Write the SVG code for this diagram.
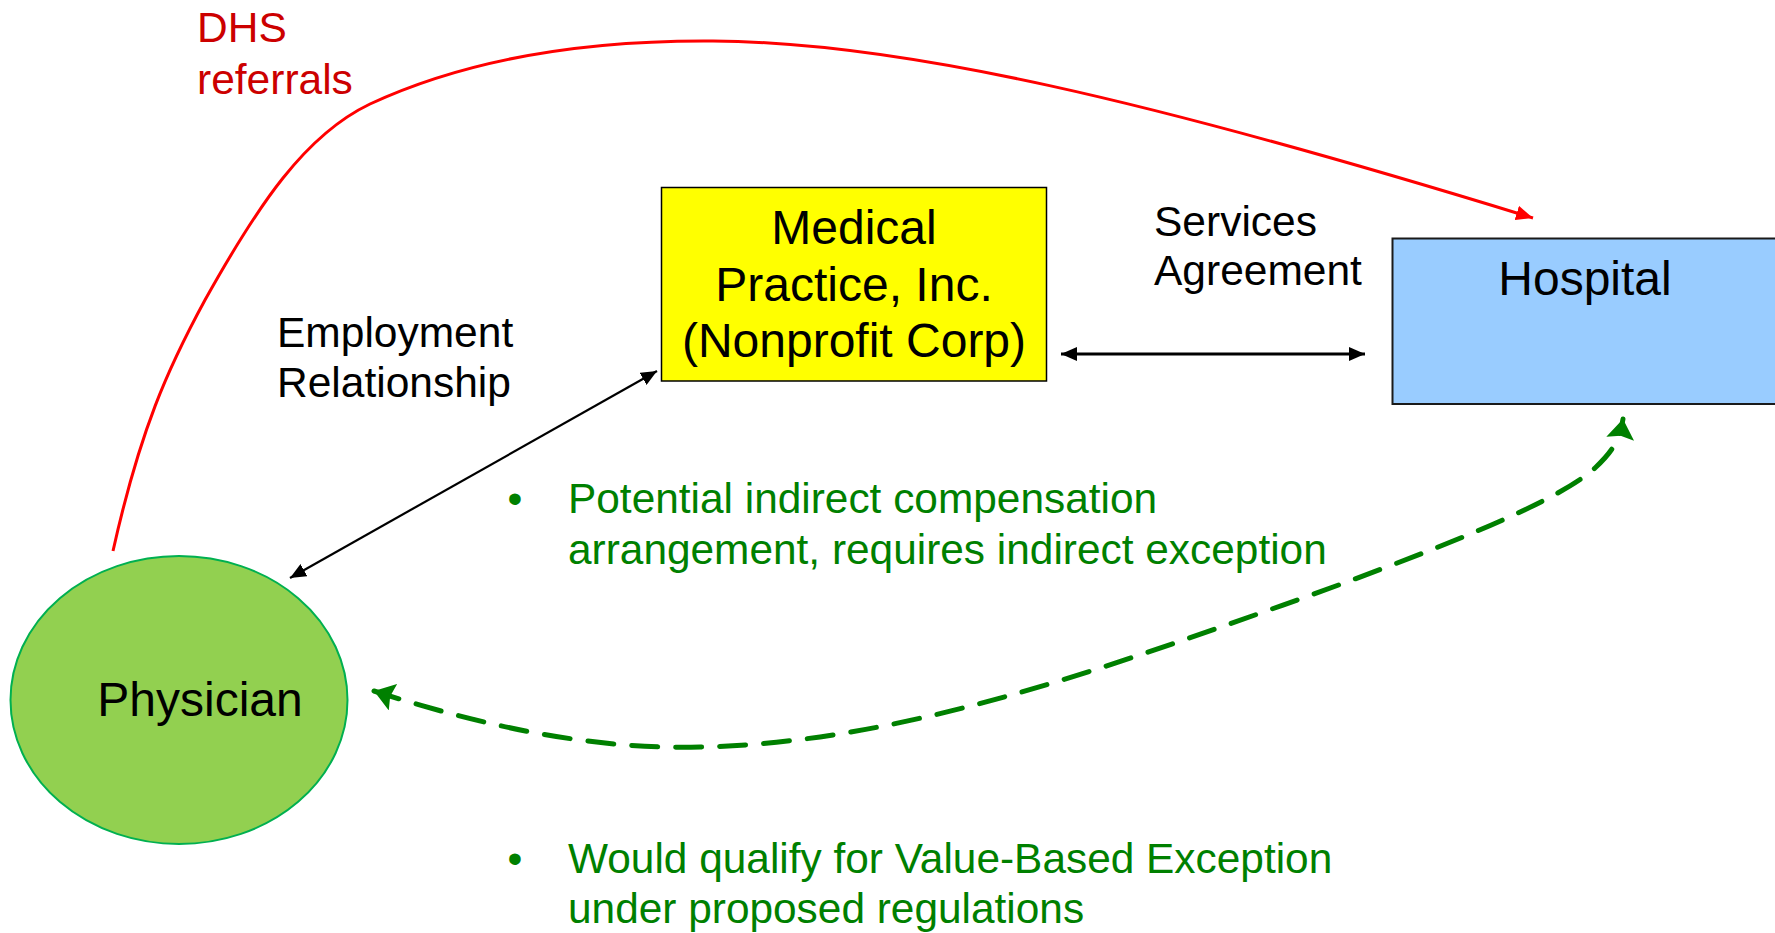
<svg xmlns="http://www.w3.org/2000/svg" width="1775" height="933" viewBox="0 0 1775 933">
<style>
text { font-family: "Liberation Sans", Arial, sans-serif; }
.lbl { font-size: 42.5px; fill: #000; }
.node { font-size: 48px; fill: #000; text-anchor: middle; }
.green { font-size: 42.4px; fill: #008000; }
.red { font-size: 42.5px; fill: #CC0000; }
</style>
<defs>
<marker id="blk" viewBox="0 0 16 14" refX="16" refY="7" markerWidth="16" markerHeight="14" markerUnits="userSpaceOnUse" orient="auto-start-reverse">
<path d="M0,0 L16,7 L0,14 Z" fill="#000"/>
</marker>
<marker id="redA" viewBox="0 0 17 15" refX="17" refY="7.5" markerWidth="17" markerHeight="15" markerUnits="userSpaceOnUse" orient="auto">
<path d="M0,0 L17,7.5 L0,15 Z" fill="#FF0000"/>
</marker>
<marker id="grnA" viewBox="0 0 20 28" refX="20" refY="14" markerWidth="20" markerHeight="28" markerUnits="userSpaceOnUse" orient="auto-start-reverse">
<path d="M0,0 L20,14 L0,28 L3,14 Z" fill="#008000"/>
</marker>
</defs>
<rect width="1775" height="933" fill="#fff"/>

<g id="connectors">
<path id="dhs-referrals" d="M113,551 C140,430 168,368 205,300 C258,205 305,135 370,104 C465,60 580,40 713,41 C900,42 1150,100 1533,218" fill="none" stroke="#FF0000" stroke-width="3" marker-end="url(#redA)"/>
<line id="employment" x1="290" y1="578" x2="657" y2="371" stroke="#000" stroke-width="2.2" marker-start="url(#blk)" marker-end="url(#blk)"/>
<line id="services" x1="1061" y1="354" x2="1365" y2="354" stroke="#000" stroke-width="3" marker-start="url(#blk)" marker-end="url(#blk)"/>
<path id="indirect" d="M374,691 C480,725 590,750 700,747 C900,743 1100,670 1300,599 C1450,545 1560,500 1595,468 C1612,452 1620,440 1623,419" fill="none" stroke="#008000" stroke-width="5" stroke-linecap="round" stroke-dasharray="26 18" marker-start="url(#grnA)" marker-end="url(#grnA)"/>
</g>

<g id="medical-practice">
<rect x="661.5" y="187.5" width="385" height="193.5" fill="#FFFF00" stroke="#000" stroke-width="1.5"/>
<text class="node" x="854" y="244">Medical</text>
<text class="node" x="854" y="301">Practice, Inc.</text>
<text class="node" x="854" y="357">(Nonprofit Corp)</text>
</g>

<g id="hospital">
<rect x="1392.5" y="238.5" width="385" height="165.5" fill="#99CCFF" stroke="#1a1a1a" stroke-width="2"/>
<text class="node" x="1585" y="295">Hospital</text>
</g>

<g id="physician">
<ellipse cx="179" cy="700" rx="168.5" ry="144" fill="#92D050" stroke="#00B050" stroke-width="2"/>
<text class="node" x="200" y="716">Physician</text>
</g>

<g id="labels">
<text class="red" x="197" y="42">DHS</text>
<text class="red" x="197" y="94">referrals</text>
<text class="lbl" x="277" y="347">Employment</text>
<text class="lbl" x="277" y="397">Relationship</text>
<text class="lbl" x="1154" y="236">Services</text>
<text class="lbl" x="1154" y="285">Agreement</text>
</g>

<g id="notes">
<text class="green" x="515" y="513" text-anchor="middle">•</text>
<text class="green" x="568" y="513">Potential indirect compensation</text>
<text class="green" x="568" y="564">arrangement, requires indirect exception</text>
<text class="green" x="515" y="873" text-anchor="middle">•</text>
<text class="green" x="568" y="873">Would qualify for Value-Based Exception</text>
<text class="green" x="568" y="923">under proposed regulations</text>
</g>
</svg>
